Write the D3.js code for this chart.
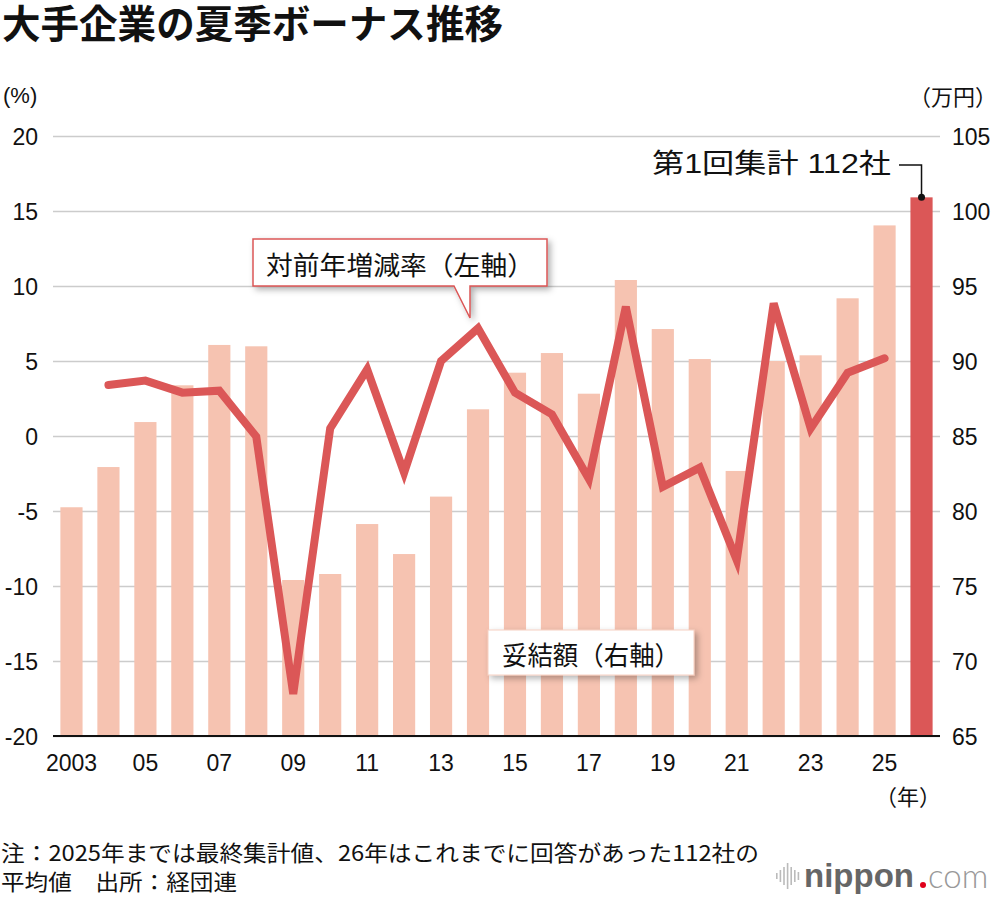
<!DOCTYPE html>
<html><head><meta charset="utf-8">
<script src="https://cdn.jsdelivr.net/npm/d3@7"></script>
<style>
body{margin:0;background:#fff;}
svg{display:block;font-family:"Liberation Sans","Noto Sans CJK JP",sans-serif;}
</style></head>
<body>
<script>
const years = ["2003","2004","2005","2006","2007","2008","2009","2010","2011","2012","2013","2014","2015","2016","2017","2018","2019","2020","2021","2022","2023","2024","2025","2026"];
const bonus = [80.25,82.93,85.93,88.38,91.07,90.98,75.4,75.8,79.13,77.13,80.96,86.78,89.22,90.53,87.82,95.4,92.13,90.13,82.67,90.0,90.38,94.18,99.04,100.91];
const rateYears = years.slice(1,23);
const rate = [3.4,3.69,2.89,3.02,-0.04,-17.2,0.51,4.44,-2.44,5.0,7.18,2.89,1.44,-2.87,8.62,-3.38,-2.11,-8.27,8.84,0.51,4.22,5.18];
const xTickYears = ["2003","2005","2007","2009","2011","2013","2015","2017","2019","2021","2023","2025"];
const xTickLabels = ["2003","05","07","09","11","13","15","17","19","21","23","25"];
const leftTicks = [-20,-15,-10,-5,0,5,10,15,20];
const rightTicks = [65,70,75,80,85,90,95,100,105];

const W=1000,H=898;
const svg=d3.select("body").append("svg").attr("width",W).attr("height",H);
const defs=svg.append("defs");
const f=defs.append("filter").attr("id","sh").attr("x","-10%").attr("y","-30%").attr("width","130%").attr("height","180%");
f.append("feDropShadow").attr("dx",3).attr("dy",3).attr("stdDeviation",3).attr("flood-color","#000").attr("flood-opacity",0.3);

const L=53,R=940,T=136,B=736;
const x=d3.scaleBand().domain(years).range([L,R]).paddingInner(0.4).paddingOuter(0.2);
const yL=d3.scaleLinear().domain([-20,20]).range([B,T]);
const yR=d3.scaleLinear().domain([65,105]).range([B,T]);

// title
svg.append("text").attr("x",2).attr("y",38).attr("font-size",38.5).attr("font-weight",700).attr("fill","#111")
  .attr("font-family","'Noto Sans CJK JP',sans-serif").attr("textLength",501).attr("lengthAdjust","spacingAndGlyphs")
  .text("大手企業の夏季ボーナス推移");

// unit labels
svg.append("text").attr("x",3).attr("y",95).attr("dominant-baseline","central").attr("font-size",22).attr("fill","#111").text("(%)");
svg.append("text").attr("x",997).attr("y",95).attr("text-anchor","end").attr("dominant-baseline","central").attr("font-size",22).attr("fill","#111").attr("font-family","'Noto Sans CJK JP',sans-serif").text("（万円）");

// left axis with gridlines
const gl=svg.append("g").attr("transform",`translate(${L},0)`)
  .call(d3.axisLeft(yL).tickValues(leftTicks).tickSize(-(R-L)).tickPadding(15).tickFormat(d=>String(d)));
gl.select(".domain").remove();
gl.selectAll(".tick line").attr("stroke","#cccccc").attr("stroke-width",1.5);
gl.selectAll(".tick text").attr("font-size",23).attr("fill","#111").attr("font-family","'Liberation Sans',sans-serif").attr("dy",null).attr("dominant-baseline","central");

// right axis
const gr=svg.append("g").attr("transform",`translate(${R},0)`)
  .call(d3.axisRight(yR).tickValues(rightTicks).tickSize(0).tickPadding(12));
gr.select(".domain").remove();
gr.selectAll(".tick text").attr("font-size",23).attr("fill","#111").attr("font-family","'Liberation Sans',sans-serif").attr("dy",null).attr("dominant-baseline","central");

// bars
svg.append("g").selectAll("rect").data(years).join("rect")
  .attr("x",d=>x(d)).attr("width",x.bandwidth())
  .attr("y",(d,i)=>yR(bonus[i])).attr("height",(d,i)=>B-yR(bonus[i]))
  .attr("fill",(d,i)=>i===years.length-1?"#db5757":"#f6c3b1");

// baseline
svg.append("line").attr("x1",L).attr("x2",R).attr("y1",B).attr("y2",B).attr("stroke","#111").attr("stroke-width",2);

// bottom axis
const gb=svg.append("g").attr("transform",`translate(0,${B})`)
  .call(d3.axisBottom(x).tickValues(xTickYears).tickSize(0).tickPadding(0).tickFormat((d,i)=>xTickLabels[xTickYears.indexOf(d)]));
gb.select(".domain").remove();
gb.selectAll(".tick text").attr("font-size",23).attr("fill","#111").attr("font-family","'Liberation Sans',sans-serif").attr("y",27).attr("dy",null).attr("dominant-baseline","central");
svg.append("text").attr("x",941).attr("y",795).attr("text-anchor","end").attr("dominant-baseline","central").attr("font-size",22).attr("fill","#111").attr("font-family","'Noto Sans CJK JP',sans-serif").text("（年）");

// line
const line=d3.line().x((d,i)=>x(rateYears[i])+x.bandwidth()/2).y(d=>yL(d));
svg.append("path").datum(rate).attr("d",line).attr("fill","none").attr("stroke","#db5757").attr("stroke-width",8)
  .attr("stroke-linecap","round").attr("stroke-linejoin","miter");

// callout 1
svg.append("path").attr("d","M253,239 H547 V286 H470 V318 L454,286 H253 Z")
  .attr("fill","#fff").attr("stroke","#db5757").attr("stroke-width",1.5).attr("filter","url(#sh)");
svg.append("text").attr("x",400).attr("y",263).attr("text-anchor","middle").attr("dominant-baseline","central")
  .attr("font-size",26).attr("fill","#111").attr("font-family","'Noto Sans CJK JP',sans-serif")
  .attr("textLength",268).attr("lengthAdjust","spacingAndGlyphs").text("対前年増減率（左軸）");

// callout 2
svg.append("rect").attr("x",488).attr("y",630).attr("width",206).attr("height",45)
  .attr("fill","#fff").attr("stroke","#f6d0c2").attr("stroke-width",1).attr("filter","url(#sh)");
svg.append("text").attr("x",591).attr("y",653).attr("text-anchor","middle").attr("dominant-baseline","central")
  .attr("font-size",26).attr("fill","#111").attr("font-family","'Noto Sans CJK JP',sans-serif")
  .attr("textLength",178).attr("lengthAdjust","spacingAndGlyphs").text("妥結額（右軸）");

// annotation for 2026
const cx26=x("2026")+x.bandwidth()/2, cy26=yR(bonus[bonus.length-1]);
svg.append("text").attr("x",891).attr("y",164).attr("text-anchor","end").attr("dominant-baseline","central")
  .attr("font-size",27).attr("fill","#111").attr("font-family","'Liberation Sans','Noto Sans CJK JP',sans-serif")
  .attr("textLength",239).attr("lengthAdjust","spacingAndGlyphs").text("第1回集計 112社");
svg.append("path").attr("d",`M899,165 H${cx26} V${cy26}`).attr("fill","none").attr("stroke","#111").attr("stroke-width",1.5);
svg.append("circle").attr("cx",cx26).attr("cy",cy26).attr("r",3.5).attr("fill","#111");

// notes
svg.append("text").attr("x",1).attr("y",851).attr("dominant-baseline","central").attr("font-size",22).attr("fill","#111")
  .attr("font-family","'Noto Sans CJK JP',sans-serif").attr("textLength",758).attr("lengthAdjust","spacingAndGlyphs")
  .text("注：2025年までは最終集計値、26年はこれまでに回答があった112社の");
svg.append("text").attr("x",1).attr("y",880).attr("dominant-baseline","central").attr("font-size",22).attr("fill","#111")
  .attr("font-family","'Noto Sans CJK JP',sans-serif").attr("textLength",236).attr("lengthAdjust","spacingAndGlyphs")
  .text("平均値　出所：経団連");

// logo
const logo=svg.append("g");
const barsH=[6,12,18,26,18,12,8];
barsH.forEach((h,i)=>logo.append("rect").attr("x",776+i*3.6).attr("y",876-h/2).attr("width",1.6).attr("height",h).attr("fill","#bbb"));
logo.append("text").attr("x",804).attr("y",875).attr("dominant-baseline","central").attr("font-size",33).attr("font-weight",700)
  .attr("fill","#666").attr("font-family","'Liberation Sans',sans-serif").text("nippon");
logo.append("circle").attr("cx",923).attr("cy",885).attr("r",3).attr("fill","#e0001b");
logo.append("text").attr("x",928).attr("y",875).attr("dominant-baseline","central").attr("font-size",33).attr("font-weight",300)
  .attr("fill","#999").attr("font-family","'Lato','Liberation Sans',sans-serif").text("com");
</script>
</body></html>
